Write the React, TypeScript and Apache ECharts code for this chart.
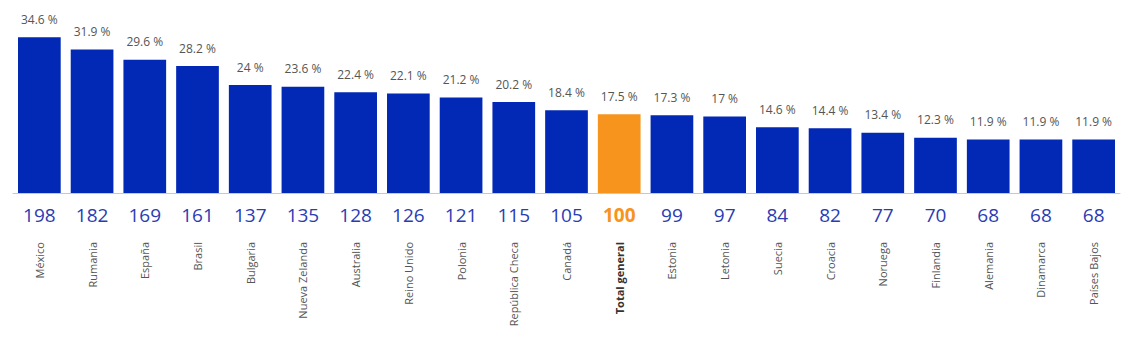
import React, { useEffect, useRef } from "react";
import * as echarts from "echarts";

const categories = ["México", "Rumania", "España", "Brasil", "Bulgaria", "Nueva Zelanda", "Australia", "Reino Unido", "Polonia", "República Checa", "Canadá", "Total general", "Estonia", "Letonia", "Suecia", "Croacia", "Noruega", "Finlandia", "Alemania", "Dinamarca", "Países Bajos"];
const percentages = [34.6, 31.9, 29.6, 28.2, 24, 23.6, 22.4, 22.1, 21.2, 20.2, 18.4, 17.5, 17.3, 17, 14.6, 14.4, 13.4, 12.3, 11.9, 11.9, 11.9];
const indexValues = [198, 182, 169, 161, 137, 135, 128, 126, 121, 115, 105, 100, 99, 97, 84, 82, 77, 70, 68, 68, 68];
const highlight = "Total general";

const BLUE = "#0229b5";
const ORANGE = "#f7941d";

export default function App() {
  const ref = useRef<HTMLDivElement>(null);
  useEffect(() => {
    if (!ref.current) return;
    const chart = echarts.init(ref.current, null, { renderer: "svg" });
    chart.setOption({
      animation: false,
      textStyle: { fontFamily: "Open Sans" },
      grid: { left: 5, right: 3, top: 5, bottom: 148, containLabel: false },
      xAxis: [
        {
          type: "category",
          data: categories,
          position: "bottom",
          axisLine: { show: true, lineStyle: { color: "#c8c8c8", width: 1 } },
          axisTick: { show: false },
          axisLabel: {
            interval: 0,
            margin: 12,
            fontSize: 19,
            fontFamily: "Open Sans",
            formatter: (v: string) => {
              const i = categories.indexOf(v);
              return v === highlight ? `{o|${indexValues[i]}}` : `{b|${indexValues[i]}}`;
            },
            rich: {
              b: { color: "#2a3cb4", fontSize: 19, fontFamily: "Open Sans" },
              o: { color: ORANGE, fontSize: 19, fontWeight: "bold", fontFamily: "Open Sans" },
            },
          },
        },
        {
          type: "category",
          data: categories,
          position: "bottom",
          offset: 0,
          axisLine: { show: false },
          axisTick: { show: false },
          axisLabel: {
            interval: 0,
            rotate: 90,
            margin: 49,
            fontSize: 11,
            fontFamily: "Open Sans",
            formatter: (v: string) => (v === highlight ? `{h|${v}}` : `{n|${v}}`),
            rich: {
              n: { color: "#555555", fontSize: 11, fontFamily: "Open Sans" },
              h: { color: "#333333", fontSize: 11, fontWeight: "bold", fontFamily: "Open Sans" },
            },
          },
        },
      ],
      yAxis: {
        type: "value",
        min: 0,
        max: 40,
        show: false,
        splitLine: { show: false },
      },
      series: [
        {
          type: "bar",
          xAxisIndex: 0,
          barCategoryGap: "19%",
          data: percentages.map((v, i) => ({
            value: v,
            itemStyle: { color: categories[i] === highlight ? ORANGE : BLUE },
          })),
          label: {
            show: true,
            position: "top",
            distance: 12,
            color: "#555555",
            fontSize: 12,
            fontFamily: "Open Sans",
            formatter: (p: any) => `${p.value} %`,
          },
        },
      ],
    });
    return () => chart.dispose();
  }, []);
  return <div ref={ref} style={{ width: 1115, height: 333 }} />;
}
